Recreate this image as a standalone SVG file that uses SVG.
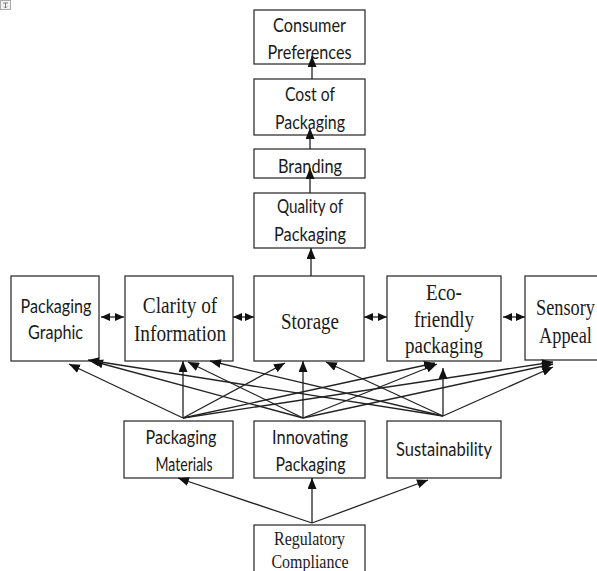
<svg xmlns="http://www.w3.org/2000/svg" width="597" height="571" viewBox="0 0 597 571">
  <style>
    .box { fill: #fff; stroke: #333; stroke-width: 1.3; }
    .sans { font-family: Lato, "Open Sans", sans-serif; font-size: 17px; fill: #1a1a1a; text-anchor: middle; }
    .serif { font-family: "Liberation Serif", "Times New Roman", serif; fill: #1a1a1a; text-anchor: middle; }
    .link { fill: none; stroke: #222; stroke-width: 1.3; marker-end: url(#arr); }
    .both { fill: none; stroke: #222; stroke-width: 1.3; marker-start: url(#arrS); marker-end: url(#arrS); }
  </style>
  <defs>
    <marker id="arr" viewBox="0 0 11 9" refX="11" refY="4.5" markerWidth="11" markerHeight="9" markerUnits="userSpaceOnUse" orient="auto">
      <path d="M0,0 L11,4.5 L0,9 z" fill="#111"/>
    </marker>
    <marker id="arrS" viewBox="0 0 9 8" refX="9" refY="4" markerWidth="9" markerHeight="8" markerUnits="userSpaceOnUse" orient="auto-start-reverse">
      <path d="M0,0 L9,4 L0,8 z" fill="#111"/>
    </marker>
  </defs>

  <rect width="597" height="571" fill="#fff"/>

  <!-- anchor icon -->
  <g id="anchor-icon">
    <rect x="0.5" y="0.5" width="10" height="9" fill="#f2f2f2" stroke="#aaa" stroke-width="1"/>
    <path d="M3,3 H8 M5.5,3 V8 M4,6.5 L5.5,8 L7,6.5" fill="none" stroke="#666" stroke-width="0.8"/>
  </g>

  <!-- nodes -->
  <g id="consumer-preferences">
    <rect class="box" x="254" y="10" width="111" height="54"/>
    <text class="sans" transform="translate(309.5,32) scale(1,1.12)" textLength="73" lengthAdjust="spacingAndGlyphs">Consumer</text>
    <text class="sans" transform="translate(309.5,59) scale(1,1.12)" textLength="84" lengthAdjust="spacingAndGlyphs">Preferences</text>
  </g>
  <g id="cost-of-packaging">
    <rect class="box" x="254" y="79" width="111" height="56"/>
    <text class="sans" transform="translate(310,101) scale(1,1.12)" textLength="50" lengthAdjust="spacingAndGlyphs">Cost of</text>
    <text class="sans" transform="translate(310,129) scale(1,1.12)" textLength="70" lengthAdjust="spacingAndGlyphs">Packaging</text>
  </g>
  <g id="branding">
    <rect class="box" x="254" y="149" width="111" height="29"/>
    <text class="sans" transform="translate(310,173) scale(1,1.12)" textLength="64" lengthAdjust="spacingAndGlyphs">Branding</text>
  </g>
  <g id="quality-of-packaging">
    <rect class="box" x="254" y="193" width="111" height="55"/>
    <text class="sans" transform="translate(310,213) scale(1,1.12)" textLength="66" lengthAdjust="spacingAndGlyphs">Quality of</text>
    <text class="sans" transform="translate(310,241) scale(1,1.12)" textLength="72" lengthAdjust="spacingAndGlyphs">Packaging</text>
  </g>

  <g id="packaging-graphic">
    <rect class="box" x="11" y="276" width="88" height="85"/>
    <text class="sans" transform="translate(56,313) scale(1,1.12)" textLength="71" lengthAdjust="spacingAndGlyphs">Packaging</text>
    <text class="sans" transform="translate(55.5,339) scale(1,1.12)" textLength="55" lengthAdjust="spacingAndGlyphs">Graphic</text>
  </g>
  <g id="clarity-of-information">
    <rect class="box" x="125" y="276" width="108" height="85"/>
    <text class="serif" font-size="19.3" transform="translate(180,313) scale(1,1.22)">Clarity of</text>
    <text class="serif" font-size="19.3" transform="translate(180,341) scale(1,1.22)">Information</text>
  </g>
  <g id="storage">
    <rect class="box" x="254" y="276" width="110" height="85"/>
    <text class="serif" font-size="19" transform="translate(310,329) scale(1,1.22)">Storage</text>
  </g>
  <g id="eco-friendly-packaging">
    <rect class="box" x="387" y="276" width="114" height="85"/>
    <text class="serif" font-size="19" transform="translate(444,300) scale(1,1.22)">Eco-</text>
    <text class="serif" font-size="19" transform="translate(444,327) scale(1,1.22)">friendly</text>
    <text class="serif" font-size="19" transform="translate(444,353) scale(1,1.22)">packaging</text>
  </g>
  <g id="sensory-appeal">
    <rect class="box" x="525" y="276" width="80" height="84"/>
    <text class="serif" font-size="18.3" transform="translate(565.5,315) scale(1,1.22)">Sensory</text>
    <text class="serif" font-size="18.3" transform="translate(565.5,343) scale(1,1.22)">Appeal</text>
  </g>

  <g id="packaging-materials">
    <rect class="box" x="124" y="421" width="109" height="57"/>
    <text class="sans" transform="translate(181,444) scale(1,1.12)" textLength="71" lengthAdjust="spacingAndGlyphs">Packaging</text>
    <text class="sans" transform="translate(184,471) scale(1,1.12)" textLength="57" lengthAdjust="spacingAndGlyphs">Materials</text>
  </g>
  <g id="innovating-packaging">
    <rect class="box" x="254" y="421" width="111" height="57"/>
    <text class="sans" transform="translate(310,444) scale(1,1.12)" textLength="76" lengthAdjust="spacingAndGlyphs">Innovating</text>
    <text class="sans" transform="translate(310.5,471) scale(1,1.12)" textLength="70" lengthAdjust="spacingAndGlyphs">Packaging</text>
  </g>
  <g id="sustainability">
    <rect class="box" x="387" y="421" width="114" height="57"/>
    <text class="sans" transform="translate(444,456) scale(1,1.12)" textLength="96" lengthAdjust="spacingAndGlyphs">Sustainability</text>
  </g>

  <g id="regulatory-compliance">
    <rect class="box" x="254" y="525" width="111" height="60"/>
    <text class="serif" font-size="16" transform="translate(309.5,545) scale(1,1.22)">Regulatory</text>
    <text class="serif" font-size="16" transform="translate(310,568) scale(1,1.22)">Compliance</text>
  </g>

  <!-- connectors, drawn over the boxes so the heads overlap the edges -->
  <g id="connectors">
    <path class="link" d="M312,79 V56"/>
    <path class="link" d="M310,149 V128"/>
    <path class="link" d="M310,193 V168"/>
    <path class="link" d="M311,276 V248"/>

    <path class="both" d="M101,317 H124"/>
    <path class="both" d="M233,317 H254"/>
    <path class="both" d="M364,317 H387"/>
    <path class="both" d="M503,317 H525"/>

    <!-- from Packaging Materials -->
    <path class="link" d="M183,418 L69,364"/>
    <path class="link" d="M183,418 L183,361"/>
    <path class="link" d="M183,418 L285,363"/>
    <path class="link" d="M183,418 L435,363"/>
    <path class="link" d="M183,418 L553,362"/>
    <!-- from Innovating Packaging -->
    <path class="link" d="M303,418 L92,361"/>
    <path class="link" d="M303,418 L188,362"/>
    <path class="link" d="M303,418 L303,361"/>
    <path class="link" d="M303,418 L437,364"/>
    <path class="link" d="M303,418 L553,364"/>
    <!-- from Sustainability -->
    <path class="link" d="M443,416 L88,360"/>
    <path class="link" d="M443,416 L210,361"/>
    <path class="link" d="M443,416 L326,362"/>
    <path class="link" d="M443,416 L443,368"/>
    <path class="link" d="M443,416 L553,367"/>

    <!-- from Regulatory Compliance -->
    <path class="link" d="M312,523 L178,478"/>
    <path class="link" d="M312,523 L312,478"/>
    <path class="link" d="M312,523 L428,480"/>
  </g>
</svg>
